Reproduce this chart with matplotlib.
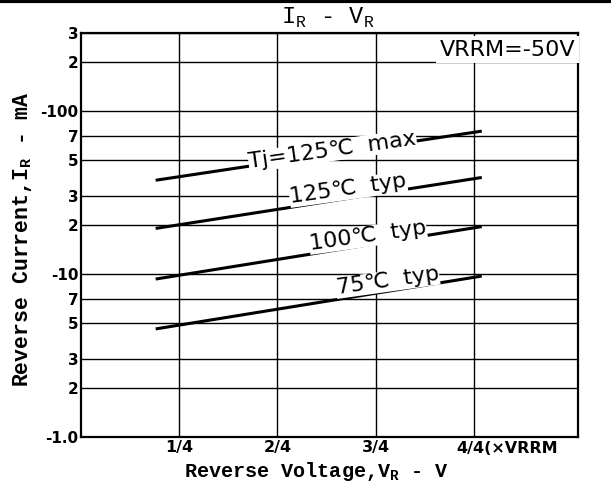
import matplotlib.pyplot as plt
import numpy as np

# reverse voltage as fraction of VRRM
vr = [0.19, 1.02]
# reverse current (mA) at both ends
ir_125_max = [37.5, 75]
ir_125_typ = [19, 39]
ir_100_typ = [9.3, 19.5]
ir_75_typ = [4.6, 9.7]

curve_labels = ["Tj=125\u2103  max", "125\u2103  typ", "100\u2103  typ", "75\u2103  typ"]
label_pos = [(0.64, 57), (0.68, 33), (0.73, 17.0), (0.78, 9.0)]

yticks = [1, 2, 3, 5, 7, 10, 20, 30, 50, 70, 100, 200, 300]
yticklabels = ["-1.0", "2", "3", "5", "7", "-10", "2", "3", "5", "7", "-100", "2", "3"]
xticks = [0.25, 0.5, 0.75, 1.0]
xticklabels = ["1/4", "2/4", "3/4", ""]

mono = "Liberation Mono"
sans = "DejaVu Sans"

fig = plt.figure(figsize=(6.11, 4.84), dpi=100)
ax = fig.add_axes([0.1326, 0.097, 0.8134, 0.835])

for ys in [ir_125_max, ir_125_typ, ir_100_typ, ir_75_typ]:
    ax.plot(vr, ys, color="black", lw=2.2, solid_capstyle="butt", zorder=3)

ax.set_yscale("log")
ax.set_ylim(1, 300)
ax.set_xlim(0, 1.265)
ax.set_yticks(yticks)
ax.set_yticklabels(yticklabels, fontfamily=sans, fontweight="bold", fontsize=11)
ax.minorticks_off()
ax.set_xticks(xticks)
ax.set_xticklabels(xticklabels, fontfamily=sans, fontweight="bold", fontsize=11.5)
ax.text(0.955, -0.01, "4/4(\u00d7VRRM", transform=ax.get_xaxis_transform(),
        ha="left", va="top", fontfamily=sans, fontweight="bold", fontsize=11.5,
        clip_on=False)
ax.tick_params(length=0, pad=2)
ax.grid(True, color="black", lw=1.0)
for s in ax.spines.values():
    s.set_linewidth(1.6)

for txt, (x, y) in zip(curve_labels, label_pos):
    ax.text(x, y, txt, rotation=8, ha="center", va="center", fontsize=16,
            fontfamily=sans, zorder=4,
            bbox=dict(facecolor="white", edgecolor="none", pad=0.3))

ax.text(0.994, 0.958, "VRRM=-50V", transform=ax.transAxes, ha="right", va="center",
        fontsize=16, fontfamily=sans, zorder=4,
        bbox=dict(facecolor="white", edgecolor="none", pad=2.5))

ax.set_xlabel("Reverse Voltage,V$_\\mathregular{R}$ - V", fontfamily=mono,
              fontweight="bold", fontsize=14.5, labelpad=0)
ax.xaxis.set_label_coords(0.473, -0.058)
ax.xaxis.label.set_va("top")
ax.set_ylabel("Reverse Current,I$_\\mathregular{R}$ - mA", fontfamily=mono,
              fontweight="bold", fontsize=15.5)
ax.yaxis.set_label_coords(-0.095, 0.49)
fig.text(0.537, 0.962, "I$_\\mathregular{R}$ - V$_\\mathregular{R}$", ha="center",
         va="center", fontsize=17, fontfamily=mono)

fig.add_artist(plt.Line2D([0, 1], [0.997, 0.997], color="black", lw=3))

fig.savefig("out.png", dpi=100)
